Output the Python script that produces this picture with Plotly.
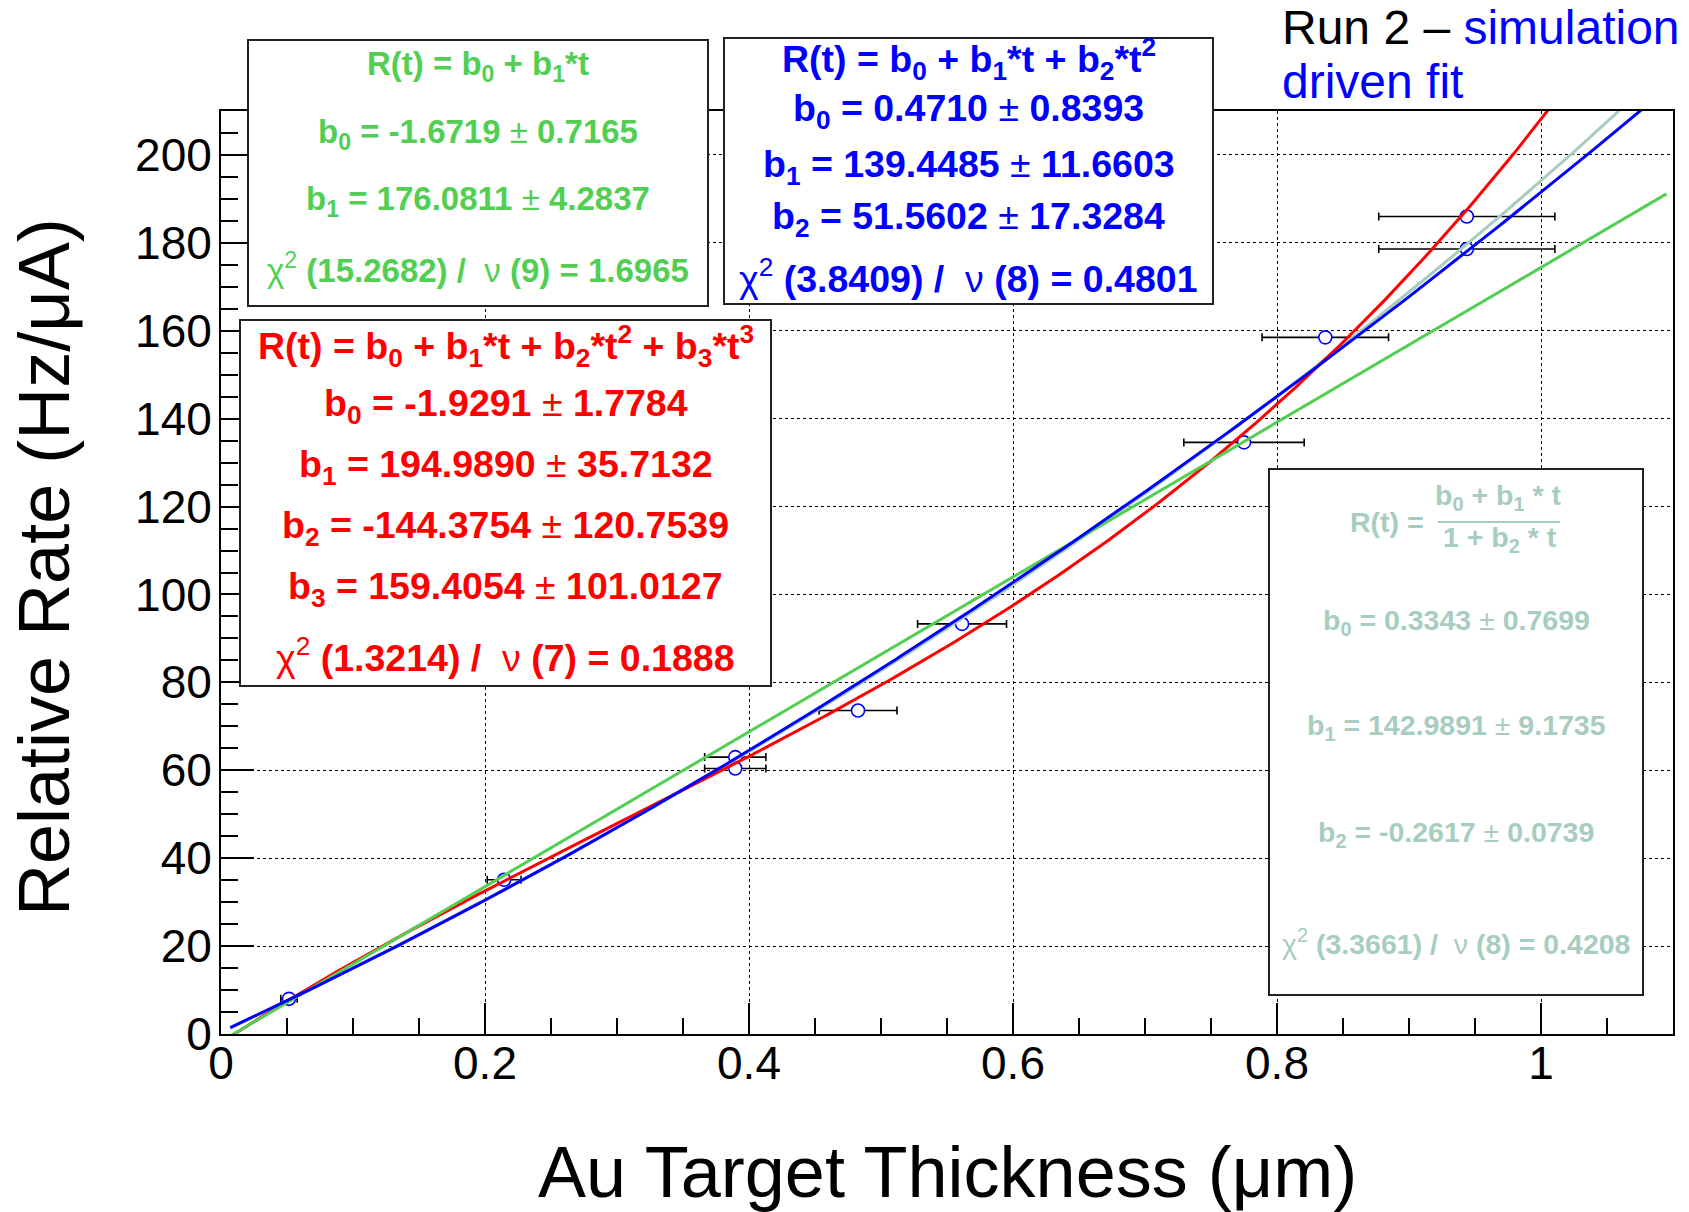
import numpy as np
import plotly.graph_objects as go

# ---------------- data ----------------
thickness = [0.0515, 0.2145, 0.3896, 0.3896, 0.4826, 0.5614, 0.775, 0.8366, 0.9438, 0.9438]
rate = [8.0, 35.1, 63.0, 60.4, 73.6, 93.3, 134.6, 158.5, 186.0, 178.6]
thickness_err = [0.0062, 0.0128, 0.0232, 0.0232, 0.0295, 0.0337, 0.0456, 0.0479, 0.0667, 0.0667]

# fit results printed in the chart
lin_b = [-1.6719, 176.0811]
lin_e = [0.7165, 4.2837]
lin_chi = [15.2682, 9, 1.6965]

quad_b = [0.4710, 139.4485, 51.5602]
quad_e = [0.8393, 11.6603, 17.3284]
quad_chi = [3.8409, 8, 0.4801]

cub_b = [-1.9291, 194.9890, -144.3754, 159.4054]
cub_e = [1.7784, 35.7132, 120.7539, 101.0127]
cub_chi = [1.3214, 7, 0.1888]

rat_b = [0.3343, 142.9891, -0.2617]
rat_e = [0.7699, 9.1735, 0.0739]
rat_chi = [3.3661, 8, 0.4208]

fit_range = [0.007, 1.095]

x_ticks = [0, 0.2, 0.4, 0.6, 0.8, 1.0]
x_ticktext = ["0", "0.2", "0.4", "0.6", "0.8", "1"]
y_ticks = [0, 20, 40, 60, 80, 100, 120, 140, 160, 180, 200]

# ---------------- styling ----------------
W, H = 1689, 1212
L, R, T, B = 221, 1673, 111, 1034
FONT = "Liberation Sans, Arial, Helvetica, sans-serif"
GREEN = "#52cf52"
BLUE = "#0000ff"
RED = "#ff0000"
GRAY = "#a7cdbf"


def px(x):
    return (x - L) / (R - L)


def py(y):
    return (B - y) / (B - T)


t = np.linspace(fit_range[0], fit_range[1], 400)
lin_curve = lin_b[0] + lin_b[1] * t
quad_curve = quad_b[0] + quad_b[1] * t + quad_b[2] * t ** 2
cub_curve = cub_b[0] + cub_b[1] * t + cub_b[2] * t ** 2 + cub_b[3] * t ** 3
rat_curve = (rat_b[0] + rat_b[1] * t) / (1 + rat_b[2] * t)

fig = go.Figure()
fig.add_trace(go.Scatter(
    x=thickness, y=rate, mode="markers",
    marker=dict(symbol="circle", size=13, color="white", line=dict(color=BLUE, width=1.6)),
    error_x=dict(type="data", array=thickness_err, color="black", thickness=1.6, width=4),
    showlegend=False, hoverinfo="skip"))
for curve, col in [(rat_curve, GRAY), (cub_curve, RED), (lin_curve, GREEN), (quad_curve, BLUE)]:
    fig.add_trace(go.Scatter(x=t, y=curve, mode="lines", line=dict(color=col, width=3),
                             showlegend=False, hoverinfo="skip"))

shapes = []
annotations = []


def box(x0, y0, x1, y1):
    shapes.append(dict(type="rect", xref="paper", yref="paper", x0=px(x0), x1=px(x1),
                       y0=py(y1), y1=py(y0), fillcolor="white",
                       line=dict(color="#222222", width=2), layer="above"))


def text(s, x, y, size, color, xanchor="center", angle=0):
    annotations.append(dict(text=s, xref="paper", yref="paper", x=px(x), y=py(y),
                            xanchor=xanchor, yanchor="middle", showarrow=False,
                            textangle=angle,
                            font=dict(family=FONT, size=size, color=color)))


def pm(name, idx, val, err):
    return f"<b>{name}<sub>{idx}</sub> = {val:.4f} </b>±<b> {err:.4f}</b>"


def chi(c):
    return f"χ<sup>2</sup><b> ({c[0]:.4f}) / </b> ν<b> ({c[1]}) = {c[2]:.4f}</b>"


# green box (linear)
box(248, 40, 708, 306)
gx = (248 + 708) / 2
GS = 33
text("<b>R(t) = b<sub>0</sub> + b<sub>1</sub>*t</b>", gx, 66, GS, GREEN)
text(pm("b", 0, lin_b[0], lin_e[0]), gx, 134, GS, GREEN)
text(pm("b", 1, lin_b[1], lin_e[1]), gx, 201, GS, GREEN)
text(chi(lin_chi), gx, 268, GS, GREEN)

# blue box (quadratic)
box(724, 38, 1213, 304)
bx = (724 + 1213) / 2
BS = 37.5
text("<b>R(t) = b<sub>0</sub> + b<sub>1</sub>*t + b<sub>2</sub>*t<sup>2</sup></b>", bx, 59, BS, BLUE)
for i, yv in enumerate([111, 167, 219]):
    text(pm("b", i, quad_b[i], quad_e[i]), bx, yv, BS, BLUE)
text(chi(quad_chi), bx, 276, BS, BLUE)

# red box (cubic)
box(240, 320, 771, 686)
rx = (240 + 771) / 2
RS = 37.5
text("<b>R(t) = b<sub>0</sub> + b<sub>1</sub>*t + b<sub>2</sub>*t<sup>2</sup> + b<sub>3</sub>*t<sup>3</sup></b>",
     rx, 346, RS, RED)
for i, yv in enumerate([406, 467, 528, 589]):
    text(pm("b", i, cub_b[i], cub_e[i]), rx, yv, RS, RED)
text(chi(cub_chi), rx, 655, RS, RED)

# gray box (ratio)
box(1269, 469, 1643, 995)
kx = (1269 + 1643) / 2
KS = 28.5
text("<b>R(t) =</b>", 1387, 522, KS, GRAY)
text("<b>b<sub>0</sub> + b<sub>1</sub> * t</b>", 1498, 497, KS, GRAY)
text("<b>1 + b<sub>2</sub> * t</b>", 1500, 539, KS, GRAY)
shapes.append(dict(type="line", xref="paper", yref="paper", x0=px(1438), x1=px(1560),
                   y0=py(522), y1=py(522), line=dict(color=GRAY, width=2), layer="above"))
for i, yv in enumerate([622, 727, 834]):
    text(pm("b", i, rat_b[i], rat_e[i]), kx, yv, KS, GRAY)
text(chi(rat_chi), kx, 942, KS, GRAY)

# title
text("Run 2 – <span style='color:#0000ff'>simulation</span>", 1280, 28, 48, "black", xanchor="left")
text("driven fit", 1280, 81, 48, BLUE, xanchor="left")

# axis titles
text("Au Target Thickness (μm)", (L + R) / 2, 1172, 72, "black")
text("Relative Rate (Hz/μA)", 44, 567, 72, "black", angle=-90)

axis_common = dict(showline=True, linecolor="black", linewidth=2, mirror=True,
                   ticks="inside", tickcolor="black", tickwidth=1.6,
                   showgrid=True, gridcolor="black", griddash="dot", gridwidth=1,
                   zeroline=False, tickfont=dict(family=FONT, size=46, color="black"))

fig.update_layout(
    width=W, height=H,
    margin=dict(l=L, r=W - R, t=T, b=H - B, pad=0),
    paper_bgcolor="white", plot_bgcolor="white",
    showlegend=False,
    shapes=shapes, annotations=annotations,
    font=dict(family=FONT),
    xaxis=dict(range=[0, 1.1], tickmode="array", tickvals=x_ticks,
               ticktext=x_ticktext, ticklen=31,
               ticklabelstandoff=-12,
               minor=dict(dtick=0.05, tick0=0, ticks="inside", ticklen=16, tickwidth=1.6,
                          tickcolor="black", showgrid=False),
               **axis_common),
    yaxis=dict(range=[0, 210], tickmode="array", tickvals=y_ticks, ticklen=33,
               ticklabelstandoff=-2,
               minor=dict(dtick=5, tick0=0, ticks="inside", ticklen=17, tickwidth=1.6,
                          tickcolor="black", showgrid=False),
               **axis_common),
)

fig.write_html("out.html", config={"displayModeBar": False},
               post_script="document.body.style.margin='0px';document.body.style.overflow='hidden';")
